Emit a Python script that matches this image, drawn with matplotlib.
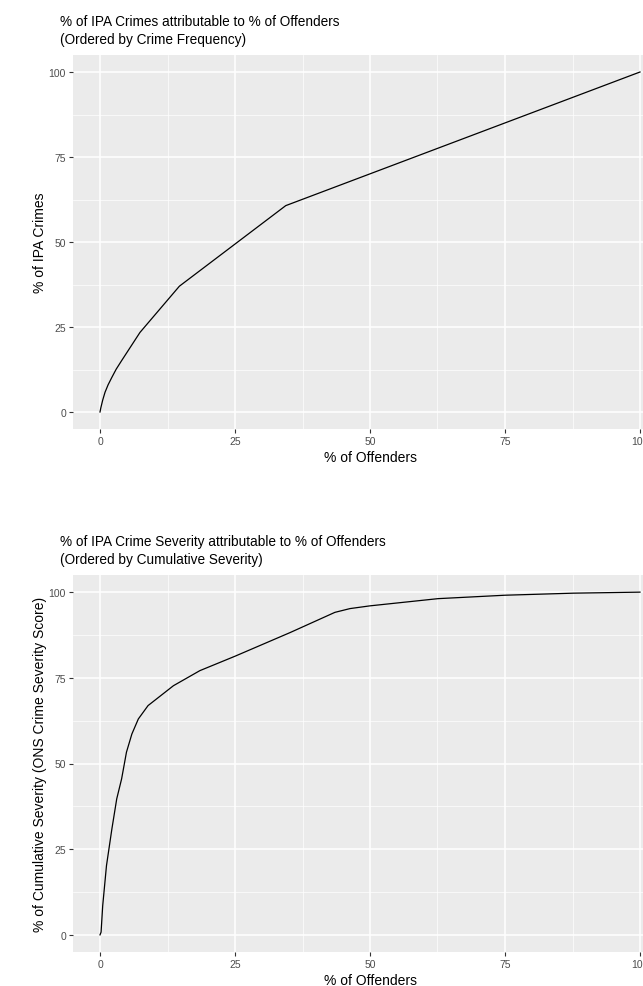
import matplotlib
matplotlib.use("Agg")
import matplotlib.pyplot as plt
from matplotlib.ticker import MultipleLocator

plt.rcParams['font.family'] = ['Liberation Sans', 'DejaVu Sans']

# crime frequency curve (top panel)
freq_x = [0, 0.15, 0.5, 0.93, 1.5, 2.2, 3.0, 4.0, 7.4, 14.7, 34.4, 100]
freq_y = [0, 1.2, 3.5, 5.8, 8.0, 10.2, 12.6, 15.1, 23.4, 37.0, 60.7, 100]

# cumulative severity curve (bottom panel)
sev_x = [0, 0.2, 0.5, 1.2, 2.2, 3.1, 4.0, 4.9, 5.9, 7.1, 8.9, 13.6, 18.5,
         25.0, 35.2, 43.5, 46.3, 50.0, 62.6, 75.0, 87.7, 100]
sev_y = [0, 0.8, 8.5, 20.2, 30.9, 39.7, 45.5, 53.3, 58.6, 63.0, 66.9, 72.7, 77.1,
         81.3, 88.2, 94.1, 95.2, 96.0, 98.1, 99.1, 99.7, 100]

ticks = [0, 25, 50, 75, 100]

W, H = 643, 987
fig = plt.figure(figsize=(W / 100, H / 100), dpi=100)


def panel(top, bottom, x, y, title, ylabel):
    ax = fig.add_axes([73 / W, 1 - bottom / H, (667 - 73) / W, (bottom - top) / H])
    ax.set_facecolor('#EBEBEB')
    ax.plot(x, y, color='black', lw=0.9)
    ax.set_xlim(-5, 105)
    ax.set_ylim(-5, 105)
    ax.set_xticks(ticks)
    ax.set_yticks(ticks)
    ax.xaxis.set_minor_locator(MultipleLocator(12.5))
    ax.yaxis.set_minor_locator(MultipleLocator(12.5))
    ax.grid(which='major', color='white', lw=1.1)
    ax.grid(which='minor', color='white', lw=0.5)
    ax.set_axisbelow(True)
    for s in ax.spines.values():
        s.set_visible(False)
    ax.tick_params(which='major', length=3, width=0.8, color='#333333',
                   labelcolor='#4D4D4D', labelsize=7.5, pad=2)
    ax.tick_params(which='minor', length=0)
    ax.set_xlabel('% of Offenders', fontsize=10, labelpad=3)
    ax.set_ylabel(ylabel, fontsize=10, labelpad=1.5)
    fig.text(60 / W, 1 - (top - 41) / H, title, fontsize=9.8, va='top',
             ha='left', linespacing=1.4)
    return ax


panel(56, 430, freq_x, freq_y,
      '% of IPA Crimes attributable to % of Offenders\n(Ordered by Crime Frequency)',
      '% of IPA Crimes')
panel(576, 953, sev_x, sev_y,
      '% of IPA Crime Severity attributable to % of Offenders\n(Ordered by Cumulative Severity)',
      '% of Cumulative Severity (ONS Crime Severity Score)')

fig.savefig('out.png', dpi=100)
